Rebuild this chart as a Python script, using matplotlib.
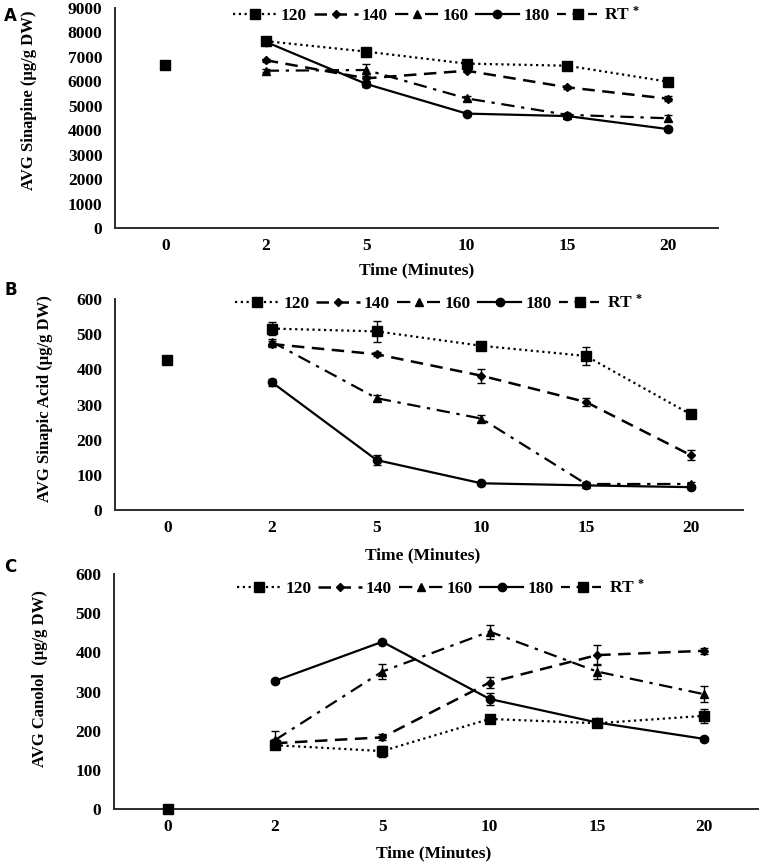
import matplotlib
matplotlib.use("Agg")
import matplotlib.pyplot as plt
import numpy as np

# ---------------- data ----------------
times = ["0", "2", "5", "10", "15", "20"]
series_names = ["120", "140", "160", "180"]

# Panel A: Sinapine
a120 = [7630, 7200, 6710, 6625, 5975]
a140 = [6850, 6110, 6420, 5745, 5280]
a160 = [6420, 6450, 5290, 4620, 4480]
a180 = [7600, 5880, 4670, 4570, 4040]
a_rt = 6640
a120_err = [70, 60, 60, 60, 60]
a140_err = [60, 100, 70, 60, 110]
a160_err = [60, 230, 100, 80, 130]
a180_err = [60, 140, 70, 60, 70]
a_rt_err = 50

# Panel B: Sinapic acid
b120 = [516, 508, 467, 438, 272]
b140 = [472, 443, 382, 307, 156]
b160 = [478, 318, 260, 74, 74]
b180 = [363, 142, 76, 70, 65]
b_rt = 428
b120_err = [19, 30, 8, 25, 10]
b140_err = [8, 6, 20, 12, 14]
b160_err = [8, 8, 10, 5, 5]
b180_err = [10, 15, 5, 5, 5]
b_rt_err = 5

# Panel C: Canolol
c120 = [163, 148, 230, 219, 238]
c140 = [168, 183, 323, 393, 404]
c160 = [176, 351, 453, 351, 293]
c180 = [327, 427, 281, 221, 179]
c_rt = 0
c120_err = [10, 14, 10, 8, 18]
c140_err = [10, 8, 15, 25, 8]
c160_err = [22, 18, 18, 18, 20]
c180_err = [6, 4, 15, 5, 5]
c_rt_err = 3

# ---------------- style ----------------
plt.rcParams["font.family"] = ["Liberation Serif", "DejaVu Serif"]
plt.rcParams["font.weight"] = "bold"
plt.rcParams["mathtext.fontset"] = "custom"
plt.rcParams["mathtext.rm"] = "Liberation Serif:bold"
plt.rcParams["mathtext.it"] = "Liberation Serif:bold"
plt.rcParams["mathtext.bf"] = "Liberation Serif:bold"
FS = 12.5
SPINE = "#2b2b2b"

styles = {
    "120": dict(ls=(0, (1, 1.6)), marker="s", ms=7.5, lw=1.6),
    "140": dict(ls=(0, (5, 3)), marker="D", ms=4.5, lw=1.8),
    "160": dict(ls=(0, (6, 3, 1.5, 3)), marker="^", ms=6, lw=1.6),
    "180": dict(ls="-", marker="o", ms=6, lw=1.6),
}

fig = plt.figure(figsize=(7.65, 8.65), dpi=100)

panels = [
    dict(rect=[0.1503, 0.7364, 0.7882, 0.2549], data=[a120, a140, a160, a180],
         errs=[a120_err, a140_err, a160_err, a180_err], rt=a_rt, rt_err=a_rt_err,
         ylim=9000, step=1000, ylabel="AVG Sinapine (µg/g DW)", letter="A",
         letter_y=0.982, ylab=(-0.129, 0.58), xlab=(0.50, -0.154), leg=(0.534, 0.966)),
    dict(rect=[0.1503, 0.4104, 0.8210, 0.2439], data=[b120, b140, b160, b180],
         errs=[b120_err, b140_err, b160_err, b180_err], rt=b_rt, rt_err=b_rt_err,
         ylim=600, step=100, ylabel="AVG Sinapic Acid (µg/g DW)", letter="B",
         letter_y=0.665, ylab=(-0.099, 0.53), xlab=(0.49, -0.175), leg=(0.516, 0.981)),
    dict(rect=[0.1490, 0.0647, 0.8418, 0.2717], data=[c120, c140, c160, c180],
         errs=[c120_err, c140_err, c160_err, c180_err], rt=c_rt, rt_err=c_rt_err,
         ylim=600, step=100, ylabel="AVG Canolol  (µg/g DW)", letter="C",
         letter_y=0.345, ylab=(-0.102, 0.557), xlab=(0.497, -0.153), leg=(0.508, 0.94)),
]

x_all = np.arange(len(times))
x_heat = x_all[1:]

for p in panels:
    ax = fig.add_axes(p["rect"])
    handles = []
    for name, vals, errs in zip(series_names, p["data"], p["errs"]):
        st = styles[name]
        ax.errorbar(x_heat, vals, yerr=errs, fmt="none", ecolor="black",
                    elinewidth=1.0, capsize=3, capthick=1.0, zorder=2)
        (h,) = ax.plot(x_heat, vals, color="black", linestyle=st["ls"], lw=st["lw"],
                       marker=st["marker"], ms=st["ms"], mfc="black", mec="black",
                       label=name, zorder=3)
        handles.append(h)
    ax.errorbar([x_all[0]], [p["rt"]], yerr=[p["rt_err"]], fmt="none", ecolor="black",
                elinewidth=1.0, capsize=3, capthick=1.0, zorder=2)
    (hrt,) = ax.plot([x_all[0]], [p["rt"]], color="black", linestyle=(0, (4, 3)), lw=1.6,
                     marker="s", ms=7.5, mfc="black", mec="black",
                     label=r"RT $^{*}$", zorder=3, clip_on=False)
    handles.append(hrt)

    ax.set_xlim(-0.5, 5.5)
    ax.set_ylim(0, p["ylim"])
    ax.set_xticks(x_all)
    ax.set_xticklabels(times)
    ax.set_yticks(np.arange(0, p["ylim"] + 1, p["step"]))
    ax.tick_params(axis="both", length=0, labelsize=FS)
    ax.tick_params(axis="x", pad=7)
    ax.tick_params(axis="y", pad=9)
    for lab in ax.get_xticklabels() + ax.get_yticklabels():
        lab.set_fontweight("bold")
    for s in ["top", "right"]:
        ax.spines[s].set_visible(False)
    for s in ["left", "bottom"]:
        ax.spines[s].set_color(SPINE)
        ax.spines[s].set_linewidth(1.4)

    ax.set_ylabel(p["ylabel"], fontsize=12, fontweight="bold")
    ax.yaxis.set_label_coords(*p["ylab"])
    ax.set_xlabel("Time (Minutes)", fontsize=FS, fontweight="bold")
    ax.xaxis.set_label_coords(*p["xlab"])

    leg = ax.legend(handles=handles, loc="center", bbox_to_anchor=p["leg"], ncol=5,
                    frameon=False, fontsize=FS, handlelength=2.5, handletextpad=0.25,
                    columnspacing=0.4, borderpad=0, borderaxespad=0)
    for t in leg.get_texts():
        t.set_fontweight("bold")

    fig.text(0.014, p["letter_y"], p["letter"], fontsize=12, fontweight="bold",
             family="DejaVu Sans", ha="center", va="center")

fig.savefig("out.png", dpi=100)
